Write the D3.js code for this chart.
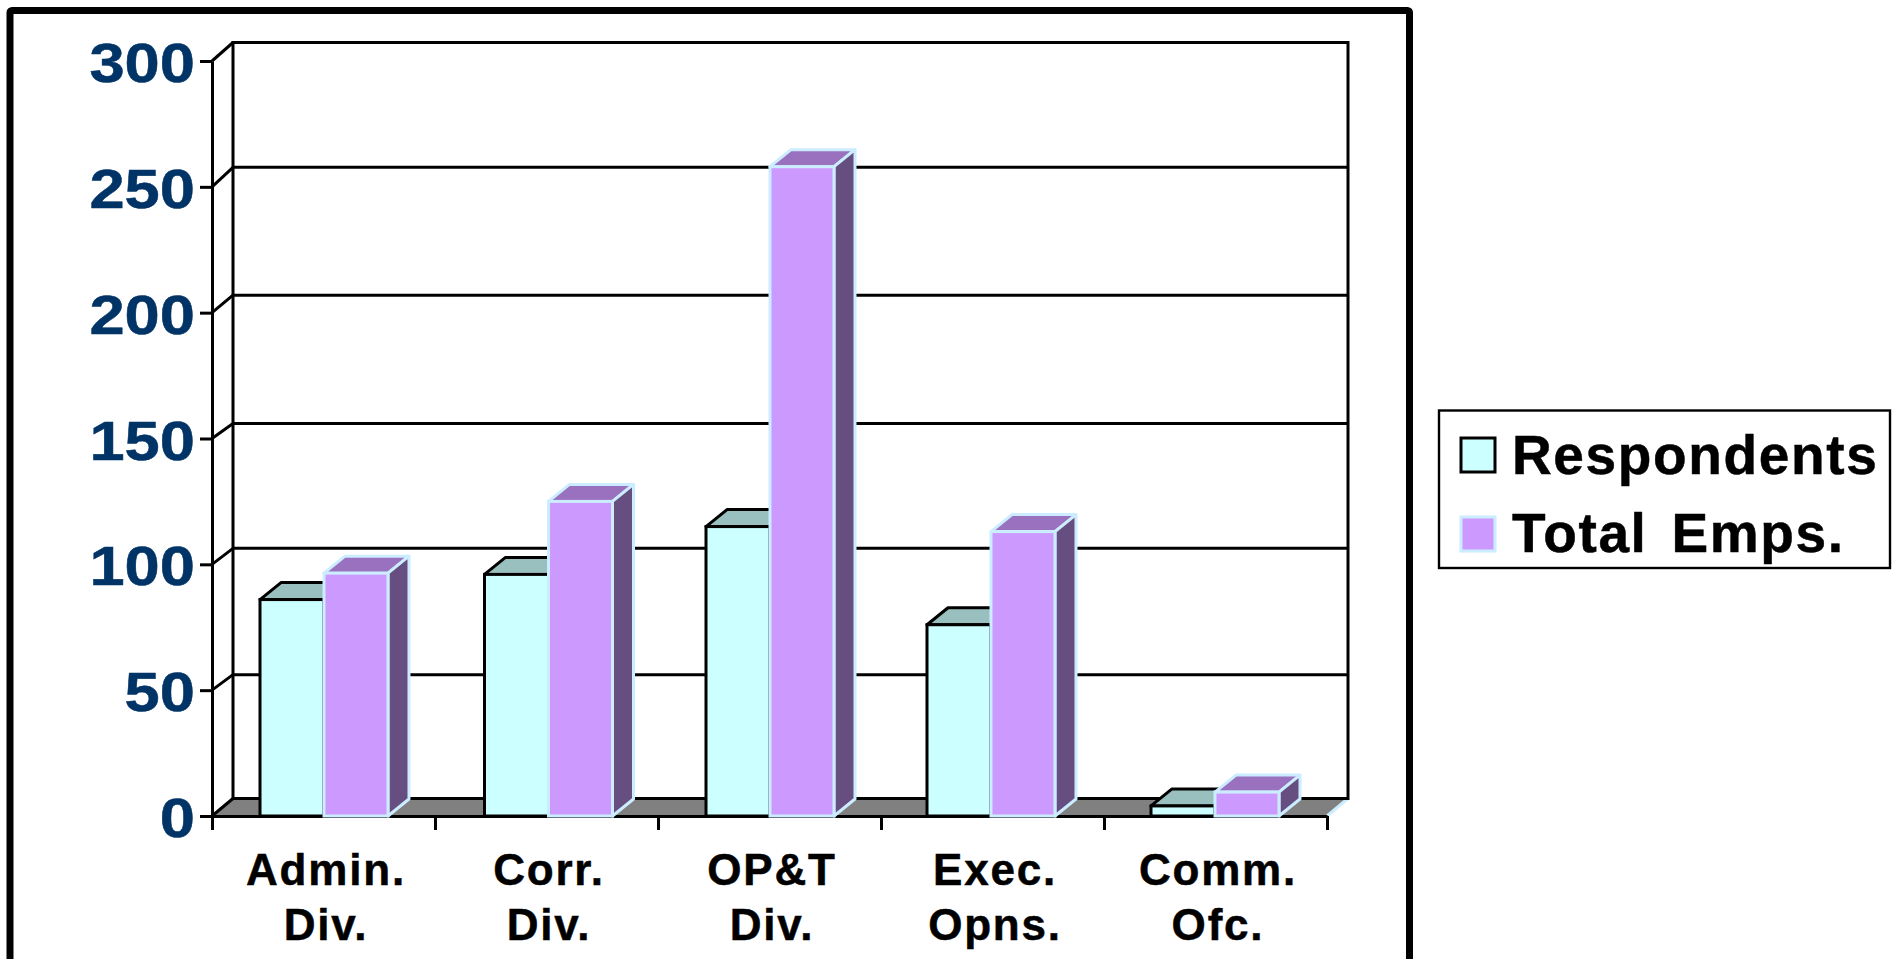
<!DOCTYPE html>
<html><head><meta charset="utf-8">
<script src="https://cdn.jsdelivr.net/npm/d3@7/dist/d3.min.js"></script>
<style>
html,body{margin:0;padding:0;background:#fff;overflow:hidden}
svg{display:block}
text{font-family:"Liberation Sans",Arial,sans-serif;font-weight:700}
</style></head><body>
<svg id="c" width="1898" height="959"></svg>
<script>
const categories = ["Admin. Div.","Corr. Div.","OP&T Div.","Exec. Opns.","Comm. Ofc."];
const respondents = [86,96,115,76,4];
const totalEmps = [96.5,125,258,113,9.5];
const yTicks = [0,50,100,150,200,250,300];
const seriesNames = ["Respondents","Total Emps."];

const svg = d3.select("#c");
const dx = 21, dy = -17.5, barDy = -17;
const y = d3.scaleLinear().domain([0,300]).range([816,61]);
const x = d3.scaleLinear().domain([0,categories.length]).range([212,1327]);
const barOffset = 48, barW = 64;
const barNudge = [0,1.5,0,-2,-1];
const gridNudge = {0:0,50:2,100:1.5,150:2.5,200:0,250:-2,300:-1};
const sw = 3;

svg.append("rect").attr("x",10).attr("y",10.5).attr("width",1399.5).attr("height",1100)
  .attr("rx",2).attr("fill","#fff").attr("stroke","#000").attr("stroke-width",7);

const x0=x(0), x1=x(categories.length), y0=y(0);
svg.append("polygon").attr("points",[[x0,y0],[x0+dx,y0+dy],[x1+dx,y0+dy],[x1,y0]].join(" "))
  .attr("fill","#808080");
svg.append("line").attr("x1",x1).attr("y1",y0).attr("x2",x1+dx).attr("y2",y0+dy)
  .attr("stroke","#ccecff").attr("stroke-width",sw);

const gy = d => y(d)+dy+gridNudge[d];
const grid = svg.append("g").attr("fill","none").attr("stroke","#000").attr("stroke-width",sw);
grid.selectAll("line.g").data(yTicks.filter(d=>d>0&&d<300)).join("line").attr("class","g")
  .attr("x1",x0+dx).attr("x2",x1+dx).attr("y1",gy).attr("y2",gy);
grid.append("rect").attr("x",x0+dx).attr("y",gy(300)).attr("width",x1-x0).attr("height",gy(0)-gy(300));
grid.selectAll("line.d").data(yTicks).join("line").attr("class","d")
  .attr("x1",x0).attr("y1",d=>y(d)).attr("x2",x0+dx).attr("y2",gy);

const axL = svg.append("g").attr("transform",`translate(${x0},0)`)
  .call(d3.axisLeft(y).tickValues(yTicks).tickSize(12).tickSizeOuter(0).tickFormat(""));
const axB = svg.append("g").attr("transform",`translate(0,${y0})`)
  .call(d3.axisBottom(x).ticks(categories.length).tickSize(14).tickSizeOuter(0).tickFormat(""));
[axL,axB].forEach(a=>{a.selectAll("path,line").attr("stroke","#000").attr("stroke-width",sw);});

function bar(g,xl,v,front,top,side,stroke){
  const t=y(v), b=y(0), xr=xl+barW;
  g.append("polygon").attr("points",[[xl,t],[xl+dx,t+barDy],[xr+dx,t+barDy],[xr,t]].join(" "))
    .attr("fill",top).attr("stroke",stroke).attr("stroke-width",sw).attr("stroke-linejoin","round");
  g.append("polygon").attr("points",[[xr,t],[xr+dx,t+barDy],[xr+dx,b+barDy],[xr,b]].join(" "))
    .attr("fill",side).attr("stroke",stroke).attr("stroke-width",sw).attr("stroke-linejoin","round");
  g.append("rect").attr("x",xl).attr("y",t).attr("width",barW).attr("height",b-t)
    .attr("fill",front).attr("stroke",stroke).attr("stroke-width",sw);
}
const bars = svg.append("g");
categories.forEach((c,i)=>{
  const s = x(i)+barOffset+barNudge[i];
  bar(bars,s,respondents[i],"#ccffff","#99bfbf","#669999","#000");
  bar(bars,s+barW,totalEmps[i],"#cc99ff","#9a71bf","#664f80","#ccecff");
});

yTicks.forEach(t=>{
  svg.append("text").attr("text-anchor","end")
    .attr("transform",`translate(195,${y(t)+21}) scale(1.13,1)`)
    .attr("font-size",56).attr("fill","#003366").attr("stroke","#003366").attr("stroke-width",0.5).text(t);
});

categories.forEach((c,i)=>{
  const cx=(x(i)+x(i+1))/2+2.5;
  c.split(" ").forEach((ln,k)=>{
    svg.append("text").attr("x",cx).attr("y",885+k*55).attr("text-anchor","middle")
      .attr("font-size",44).attr("letter-spacing",1.8).attr("fill","#000")
      .attr("stroke","#000").attr("stroke-width",0.5).text(ln);
  });
});

const lg = svg.append("g");
lg.append("rect").attr("x",1439).attr("y",410.5).attr("width",451).attr("height",157.5)
  .attr("fill","#fff").attr("stroke","#000").attr("stroke-width",2.4);
const lgRows=[{t:454,b:474,f:"#ccffff",s:"#000"},{t:533,b:552,f:"#cc99ff",s:"#ccecff"}];
lgRows.forEach((r,i)=>{
  lg.append("rect").attr("x",1461).attr("y",r.t-16).attr("width",34).attr("height",34)
    .attr("fill",r.f).attr("stroke",r.s).attr("stroke-width",3);
  lg.append("text").attr("x",1512).attr("y",r.b).attr("font-size",55)
    .attr("letter-spacing",1.65).attr("word-spacing",7).attr("fill","#000")
    .attr("stroke","#000").attr("stroke-width",0.5).text(seriesNames[i]);
});
</script>
</body></html>
